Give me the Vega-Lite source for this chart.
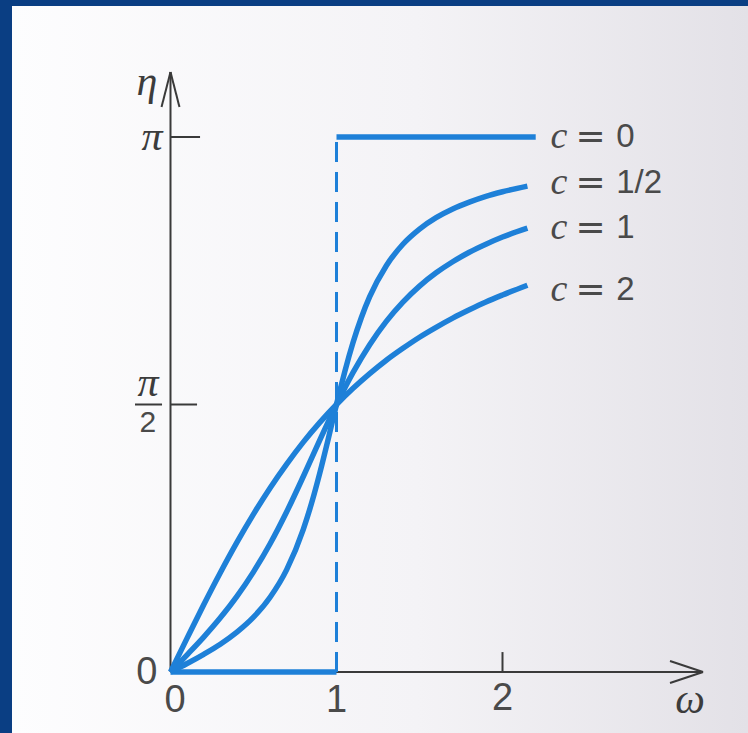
{
  "$schema": "https://vega.github.io/schema/vega-lite/v6.json",
  "width": 736,
  "height": 727,
  "padding": {"left": 12, "top": 6, "right": 0, "bottom": 0},
  "autosize": {"type": "none"},
  "background": "#0a3e83",
  "config": {
    "view": {
      "stroke": null,
      "fill": {
        "gradient": "linear",
        "x1": 0, "y1": 0, "x2": 1, "y2": 0,
        "stops": [
          {"offset": 0, "color": "#fdfdfe"},
          {"offset": 0.55, "color": "#f4f3f6"},
          {"offset": 1, "color": "#e3e1e7"}
        ]
      }
    }
  },
  "datasets": {
    "curves": [
      {"series": "c0_low", "w": 0, "eta": 0},
      {"series": "c0_low", "w": 1, "eta": 0},
      {"series": "c0_high", "w": 1, "eta": 3.1416},
      {"series": "c0_high", "w": 2.2, "eta": 3.1416},

      {"series": "c_half", "w": 0, "eta": 0},
      {"series": "c_half", "w": 0.1, "eta": 0.050},
      {"series": "c_half", "w": 0.2, "eta": 0.104},
      {"series": "c_half", "w": 0.3, "eta": 0.163},
      {"series": "c_half", "w": 0.4, "eta": 0.234},
      {"series": "c_half", "w": 0.5, "eta": 0.322},
      {"series": "c_half", "w": 0.6, "eta": 0.439},
      {"series": "c_half", "w": 0.7, "eta": 0.601},
      {"series": "c_half", "w": 0.8, "eta": 0.838},
      {"series": "c_half", "w": 0.85, "eta": 0.992},
      {"series": "c_half", "w": 0.9, "eta": 1.171},
      {"series": "c_half", "w": 0.95, "eta": 1.368},
      {"series": "c_half", "w": 0.975, "eta": 1.470},
      {"series": "c_half", "w": 1.0, "eta": 1.571},
      {"series": "c_half", "w": 1.025, "eta": 1.669},
      {"series": "c_half", "w": 1.05, "eta": 1.764},
      {"series": "c_half", "w": 1.1, "eta": 1.936},
      {"series": "c_half", "w": 1.15, "eta": 2.082},
      {"series": "c_half", "w": 1.2, "eta": 2.204},
      {"series": "c_half", "w": 1.3, "eta": 2.386},
      {"series": "c_half", "w": 1.4, "eta": 2.512},
      {"series": "c_half", "w": 1.5, "eta": 2.601},
      {"series": "c_half", "w": 1.6, "eta": 2.668},
      {"series": "c_half", "w": 1.7, "eta": 2.719},
      {"series": "c_half", "w": 1.8, "eta": 2.759},
      {"series": "c_half", "w": 1.9, "eta": 2.793},
      {"series": "c_half", "w": 2.0, "eta": 2.820},
      {"series": "c_half", "w": 2.15, "eta": 2.853},

      {"series": "c_one", "w": 0, "eta": 0},
      {"series": "c_one", "w": 0.1, "eta": 0.101},
      {"series": "c_one", "w": 0.2, "eta": 0.205},
      {"series": "c_one", "w": 0.3, "eta": 0.318},
      {"series": "c_one", "w": 0.4, "eta": 0.444},
      {"series": "c_one", "w": 0.5, "eta": 0.588},
      {"series": "c_one", "w": 0.6, "eta": 0.753},
      {"series": "c_one", "w": 0.7, "eta": 0.941},
      {"series": "c_one", "w": 0.8, "eta": 1.148},
      {"series": "c_one", "w": 0.9, "eta": 1.363},
      {"series": "c_one", "w": 0.95, "eta": 1.469},
      {"series": "c_one", "w": 1.0, "eta": 1.571},
      {"series": "c_one", "w": 1.05, "eta": 1.668},
      {"series": "c_one", "w": 1.1, "eta": 1.759},
      {"series": "c_one", "w": 1.2, "eta": 1.922},
      {"series": "c_one", "w": 1.3, "eta": 2.059},
      {"series": "c_one", "w": 1.4, "eta": 2.172},
      {"series": "c_one", "w": 1.5, "eta": 2.266},
      {"series": "c_one", "w": 1.6, "eta": 2.344},
      {"series": "c_one", "w": 1.7, "eta": 2.409},
      {"series": "c_one", "w": 1.8, "eta": 2.465},
      {"series": "c_one", "w": 1.9, "eta": 2.512},
      {"series": "c_one", "w": 2.0, "eta": 2.554},
      {"series": "c_one", "w": 2.15, "eta": 2.606},

      {"series": "c_two", "w": 0, "eta": 0},
      {"series": "c_two", "w": 0.1, "eta": 0.199},
      {"series": "c_two", "w": 0.2, "eta": 0.395},
      {"series": "c_two", "w": 0.3, "eta": 0.583},
      {"series": "c_two", "w": 0.4, "eta": 0.761},
      {"series": "c_two", "w": 0.5, "eta": 0.927},
      {"series": "c_two", "w": 0.6, "eta": 1.081},
      {"series": "c_two", "w": 0.7, "eta": 1.221},
      {"series": "c_two", "w": 0.8, "eta": 1.350},
      {"series": "c_two", "w": 0.9, "eta": 1.466},
      {"series": "c_two", "w": 1.0, "eta": 1.571},
      {"series": "c_two", "w": 1.1, "eta": 1.666},
      {"series": "c_two", "w": 1.2, "eta": 1.752},
      {"series": "c_two", "w": 1.3, "eta": 1.831},
      {"series": "c_two", "w": 1.4, "eta": 1.901},
      {"series": "c_two", "w": 1.5, "eta": 1.966},
      {"series": "c_two", "w": 1.6, "eta": 2.024},
      {"series": "c_two", "w": 1.7, "eta": 2.078},
      {"series": "c_two", "w": 1.8, "eta": 2.127},
      {"series": "c_two", "w": 1.9, "eta": 2.173},
      {"series": "c_two", "w": 2.0, "eta": 2.214},
      {"series": "c_two", "w": 2.15, "eta": 2.271}
    ],
    "segments": [
      {"kind": "axis", "w": 0, "eta": 0, "w2": 3.208, "eta2": 0},
      {"kind": "axis", "w": 0, "eta": 0, "w2": 0, "eta2": 3.523},
      {"kind": "axis", "w": 3.208, "eta": 0, "w2": 3.009, "eta2": 0.065},
      {"kind": "axis", "w": 3.208, "eta": 0, "w2": 3.009, "eta2": -0.065},
      {"kind": "axis", "w": 0, "eta": 3.523, "w2": -0.054, "eta2": 3.318},
      {"kind": "axis", "w": 0, "eta": 3.523, "w2": 0.054, "eta2": 3.318},
      {"kind": "axis", "w": 0, "eta": 3.1416, "w2": 0.178, "eta2": 3.1416},
      {"kind": "axis", "w": 0, "eta": 1.5708, "w2": 0.16, "eta2": 1.5708},
      {"kind": "axis", "w": 2, "eta": 0, "w2": 2, "eta2": 0.117},
      {"kind": "axis", "w": -0.214, "eta": 1.5708, "w2": -0.051, "eta2": 1.5708},
      {"kind": "dash", "w": 1, "eta": 0, "w2": 1, "eta2": 3.1416}
    ],
    "labels": [
      {"role": "greek", "w": -0.142, "eta": 3.465, "text": "η"},
      {"role": "greek", "w": -0.111, "eta": 3.1416, "text": "π"},
      {"role": "greek", "w": -0.136, "eta": 1.695, "text": "π"},
      {"role": "greek", "w": 3.13, "eta": -0.164, "text": "ω"},
      {"role": "tick", "w": -0.142, "eta": -0.006, "text": "0"},
      {"role": "tick", "w": 0.027, "eta": -0.17, "text": "0"},
      {"role": "tick", "w": 1.0, "eta": -0.17, "text": "1"},
      {"role": "tick", "w": 2.0, "eta": -0.158, "text": "2"},
      {"role": "denom", "w": -0.136, "eta": 1.462, "text": "2"},
      {"role": "cvar", "w": 2.34, "eta": 3.1416, "text": "c"},
      {"role": "cvar", "w": 2.34, "eta": 2.8715, "text": "c"},
      {"role": "cvar", "w": 2.34, "eta": 2.6073, "text": "c"},
      {"role": "cvar", "w": 2.34, "eta": 2.2432, "text": "c"},
      {"role": "eq", "w": 2.53, "eta": 3.1416, "text": "="},
      {"role": "eq", "w": 2.53, "eta": 2.8715, "text": "="},
      {"role": "eq", "w": 2.53, "eta": 2.6073, "text": "="},
      {"role": "eq", "w": 2.53, "eta": 2.2432, "text": "="},
      {"role": "cval", "w": 2.685, "eta": 3.1416, "text": "0"},
      {"role": "cval", "w": 2.685, "eta": 2.8715, "text": "1/2"},
      {"role": "cval", "w": 2.685, "eta": 2.6073, "text": "1"},
      {"role": "cval", "w": 2.685, "eta": 2.2432, "text": "2"}
    ]
  },
  "encoding": {
    "x": {
      "field": "w",
      "type": "quantitative",
      "scale": {"domain": [-0.9548, 3.4789], "nice": false, "zero": false},
      "axis": null
    },
    "y": {
      "field": "eta",
      "type": "quantitative",
      "scale": {"domain": [-0.3582, 3.9109], "nice": false, "zero": false},
      "axis": null
    }
  },
  "layer": [
    {
      "data": {"name": "segments"},
      "transform": [{"filter": "datum.kind === 'axis'"}],
      "mark": {"type": "rule", "color": "#3a3a3a", "strokeWidth": 2},
      "encoding": {"x2": {"field": "w2"}, "y2": {"field": "eta2"}}
    },
    {
      "data": {"name": "segments"},
      "transform": [{"filter": "datum.kind === 'dash'"}],
      "mark": {"type": "rule", "color": "#1e80d8", "strokeWidth": 3, "strokeDash": [20, 10]},
      "encoding": {"x2": {"field": "w2"}, "y2": {"field": "eta2"}}
    },
    {
      "data": {"name": "curves"},
      "mark": {"type": "line", "color": "#1e80d8", "strokeWidth": 5.5, "interpolate": "monotone"},
      "encoding": {
        "detail": {"field": "series"},
        "order": {"field": "w", "type": "quantitative"}
      }
    },
    {
      "data": {"name": "labels"},
      "transform": [{"filter": "datum.role === 'greek'"}],
      "mark": {"type": "text", "font": "Liberation Serif", "fontStyle": "italic", "fontSize": 42, "color": "#3c3c3c", "align": "center", "baseline": "middle"},
      "encoding": {"text": {"field": "text"}}
    },
    {
      "data": {"name": "labels"},
      "transform": [{"filter": "datum.role === 'tick'"}],
      "mark": {"type": "text", "font": "Liberation Sans", "fontSize": 38, "color": "#4a4a4a", "align": "center", "baseline": "middle"},
      "encoding": {"text": {"field": "text"}}
    },
    {
      "data": {"name": "labels"},
      "transform": [{"filter": "datum.role === 'denom'"}],
      "mark": {"type": "text", "font": "Liberation Sans", "fontSize": 30, "color": "#4a4a4a", "align": "center", "baseline": "middle"},
      "encoding": {"text": {"field": "text"}}
    },
    {
      "data": {"name": "labels"},
      "transform": [{"filter": "datum.role === 'cvar'"}],
      "mark": {"type": "text", "font": "Liberation Serif", "fontStyle": "italic", "fontSize": 38, "color": "#4a4a4a", "align": "center", "baseline": "middle"},
      "encoding": {"text": {"field": "text"}}
    },
    {
      "data": {"name": "labels"},
      "transform": [{"filter": "datum.role === 'eq'"}],
      "mark": {"type": "text", "font": "DejaVu Sans", "fontSize": 36, "color": "#4a4a4a", "align": "center", "baseline": "middle"},
      "encoding": {"text": {"field": "text"}}
    },
    {
      "data": {"name": "labels"},
      "transform": [{"filter": "datum.role === 'cval'"}],
      "mark": {"type": "text", "font": "Liberation Sans", "fontSize": 33, "color": "#4a4a4a", "align": "left", "baseline": "middle"},
      "encoding": {"text": {"field": "text"}}
    }
  ]
}
